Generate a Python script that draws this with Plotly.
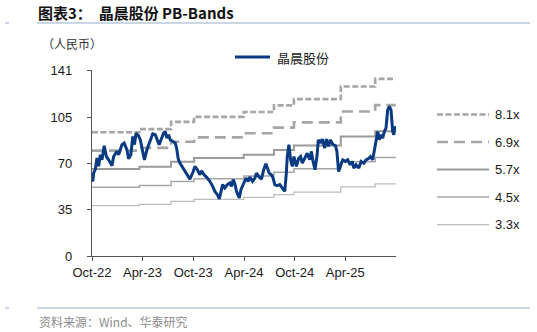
import plotly.graph_objects as go

# ---------------- data ----------------
price_dates = [
    "2022-10-01","2022-10-04","2022-10-07","2022-10-13","2022-10-19","2022-10-25","2022-10-31",
    "2022-11-06","2022-11-14","2022-11-22","2022-11-30","2022-12-12","2022-12-18","2022-12-30",
    "2023-01-05","2023-01-17","2023-01-25","2023-02-04","2023-02-10","2023-02-18","2023-02-25",
    "2023-03-03","2023-03-09","2023-03-18","2023-03-24","2023-03-30","2023-04-08","2023-04-17",
    "2023-04-23","2023-04-29","2023-05-08","2023-05-17","2023-05-23","2023-05-31","2023-06-07",
    "2023-06-16","2023-06-22","2023-06-28","2023-07-04","2023-07-10","2023-07-19","2023-07-28",
    "2023-08-02","2023-08-08","2023-08-14","2023-08-26","2023-09-07","2023-09-19","2023-10-01",
    "2023-10-07","2023-10-16","2023-10-25","2023-10-31","2023-11-09","2023-11-18","2023-11-30",
    "2023-12-10","2023-12-18","2023-12-27","2024-01-03","2024-01-08","2024-01-15","2024-01-23",
    "2024-02-01","2024-02-10","2024-02-16","2024-02-22","2024-02-28","2024-03-05","2024-03-11",
    "2024-03-15","2024-03-21","2024-03-29","2024-04-08","2024-04-16","2024-04-22","2024-05-02",
    "2024-05-10","2024-05-16","2024-05-24","2024-06-03","2024-06-11","2024-06-19","2024-06-25",
    "2024-07-01","2024-07-09","2024-07-15","2024-07-21","2024-07-29","2024-08-08","2024-08-17",
    "2024-08-26","2024-09-01","2024-09-04","2024-09-10","2024-09-16","2024-09-22","2024-09-28",
    "2024-10-07","2024-10-15","2024-10-22","2024-10-28","2024-11-06","2024-11-15","2024-11-24",
    "2024-11-30","2024-12-06","2024-12-13","2024-12-20","2024-12-25","2025-01-01","2025-01-08",
    "2025-01-17","2025-01-23","2025-01-31","2025-02-06","2025-02-16","2025-02-25","2025-03-02",
    "2025-03-08","2025-03-14","2025-03-23","2025-04-02","2025-04-10","2025-04-19","2025-04-26",
    "2025-05-02","2025-05-10","2025-05-20","2025-05-28","2025-06-07","2025-06-15","2025-06-25",
    "2025-07-01","2025-07-09","2025-07-15","2025-07-21","2025-07-27","2025-08-02","2025-08-08",
    "2025-08-14","2025-08-20","2025-08-26","2025-09-01","2025-09-07","2025-09-13","2025-09-19",
    "2025-09-23","2025-09-28","2025-09-30",
]
price_values = [
    59.0, 56.6, 63.0, 65.7, 74.3, 68.0, 76.8,
    72.9, 83.6, 75.4, 72.9, 68.5, 75.4, 79.3,
    76.8, 84.4, 85.6, 80.5, 73.7, 76.8, 90.6,
    84.4, 93.1, 91.1, 88.1, 81.8, 72.9, 80.5,
    84.4, 88.1, 92.6, 91.9, 88.1, 84.4, 88.1,
    93.1, 94.4, 89.4, 91.9, 88.1, 86.8, 85.6,
    81.8, 73.4, 70.4, 66.6, 62.8, 58.3, 64.0,
    67.9, 65.4, 61.6, 64.6, 61.6, 59.8, 56.6,
    52.8, 49.0, 46.5, 43.2, 47.8, 54.1, 51.6,
    54.1, 55.4, 52.8, 57.9, 54.9, 49.0, 45.3,
    44.0, 50.3, 54.1, 59.1, 56.6, 59.8, 56.6,
    59.1, 62.8, 60.3, 58.3, 65.4, 69.9, 66.6,
    62.8, 61.6, 59.1, 54.1, 53.3, 54.1, 51.6,
    49.0, 64.0, 75.4, 84.4, 72.9, 67.9, 75.4,
    67.9, 74.1, 75.4, 70.4, 74.1, 77.9, 72.9,
    79.3, 71.7, 65.4, 75.4, 88.1, 85.6, 88.6,
    81.8, 88.6, 83.1, 88.1, 84.4, 83.6, 79.3,
    64.0, 67.9, 72.9, 71.7, 72.9, 69.1, 71.7,
    66.6, 69.1, 66.6, 71.7, 70.4, 72.9, 74.1,
    75.4, 72.9, 79.3, 88.1, 94.4, 88.1, 91.9,
    89.4, 94.4, 96.9, 110.8, 113.3, 110.8, 94.4,
    91.9, 98.2, 96.9,
]

band_dates = ["2022-10-01","2023-03-21","2023-07-13","2023-10-04","2024-03-31",
              "2024-07-18","2024-09-28","2025-03-16","2025-07-18","2025-09-30"]
band_81 = [93.8, 96.2, 101.7, 105.5, 109.2, 114.2, 118.9, 128.5, 134.3, 134.3]
band_69 = [79.9, 82.0, 86.6, 89.9, 93.0, 97.3, 101.3, 109.5, 114.4, 114.4]
band_57 = [66.0, 67.7, 71.5, 74.3, 76.8, 80.4, 83.7, 90.5, 94.5, 94.5]
band_45 = [52.1, 53.5, 56.5, 58.6, 60.7, 63.5, 66.1, 71.4, 74.6, 74.6]
band_33 = [38.2, 39.2, 41.4, 43.0, 44.5, 46.5, 48.4, 52.4, 54.7, 54.7]

band_labels = ["8.1x", "6.9x", "5.7x", "4.5x", "3.3x"]
series_name = "晶晨股份"

tick_vals = ["2022-10-01","2023-04-01","2023-10-01","2024-04-01","2024-10-01","2025-04-01"]
tick_text = ["Oct-22","Apr-23","Oct-23","Apr-24","Oct-24","Apr-25"]
y_ticks = [0, 35, 70, 105, 141]

# ---------------- styles ----------------
W, H = 537, 332
L, R, T, B = 92, 396, 70, 256
FONT = "Liberation Sans, Arial, sans-serif"
CJK = "Noto Sans CJK SC, sans-serif"
BLUE = "#0A3A82"

band_styles = [
    dict(color="#A6A6A6", width=2.6, dash="6px,2.5px"),
    dict(color="#A6A6A6", width=2.6, dash="11px,6px"),
    dict(color="#9A9A9A", width=2.0, dash="solid"),
    dict(color="#A6A6A6", width=1.5, dash="solid"),
    dict(color="#BDBDBD", width=1.3, dash="solid"),
]
bands = [band_81, band_69, band_57, band_45, band_33]

def px(x):
    return (x - L) / (R - L)

def py(y):
    return (B - y) / (B - T)

fig = go.Figure()
for vals, st, lab in zip(bands, band_styles, band_labels):
    fig.add_trace(go.Scatter(x=band_dates, y=vals, mode="lines", line_shape="hv",
                             line=st, name=lab, showlegend=False, hoverinfo="skip"))

fig.add_trace(go.Scatter(x=price_dates, y=price_values, mode="lines",
                         line=dict(color=BLUE, width=3), name=series_name,
                         showlegend=False))

shapes = []
annotations = []

# right-side legend for the bands
leg_y = [114.5, 142, 169.5, 197, 224.7]
for yy, st, lab in zip(leg_y, band_styles, band_labels):
    shapes.append(dict(type="line", xref="paper", yref="paper",
                       x0=px(437), x1=px(489), y0=py(yy), y1=py(yy),
                       line=st))
    annotations.append(dict(xref="paper", yref="paper", x=px(493), y=py(yy),
                            text=lab, showarrow=False, xanchor="left", yanchor="middle",
                            font=dict(family=FONT, size=13, color="#1a1a1a")))

# top legend for the price series
shapes.append(dict(type="line", xref="paper", yref="paper",
                   x0=px(235), x1=px(270), y0=py(57), y1=py(57),
                   line=dict(color=BLUE, width=3)))
annotations.append(dict(xref="paper", yref="paper", x=px(275), y=py(57),
                        text=series_name, showarrow=False, xanchor="left", yanchor="middle",
                        font=dict(family=CJK, size=13, color="#1a1a1a")))

# unit label
annotations.append(dict(xref="paper", yref="paper", x=px(40), y=py(44),
                        text="（人民币）", showarrow=False, xanchor="left", yanchor="middle",
                        font=dict(family=CJK, size=12, color="#333333")))

# header / footer rules
for yy in (23, 308):
    shapes.append(dict(type="line", xref="paper", yref="paper",
                       x0=px(37), x1=px(530), y0=py(yy), y1=py(yy),
                       line=dict(color="#B9C8DA", width=1.5)))
    shapes.append(dict(type="line", xref="paper", yref="paper",
                       x0=px(5), x1=px(9), y0=py(yy), y1=py(yy),
                       line=dict(color="#B9C8DA", width=1.5)))

# source
annotations.append(dict(xref="paper", yref="paper", x=px(37), y=py(321),
                        text="资料来源：Wind、华泰研究", showarrow=False,
                        xanchor="left", yanchor="middle",
                        font=dict(family=CJK, size=12, color="#8C8C8C")))

fig.update_layout(
    width=W, height=H,
    margin=dict(l=L, r=W - R, t=T, b=H - B, pad=0),
    paper_bgcolor="white", plot_bgcolor="white",
    title=dict(text="<b>图表3：  晶晨股份 PB-Bands</b>", x=38 / W, xanchor="left",
               xref="container", y=1 - 14 / H, yref="container", yanchor="middle",
               font=dict(family=CJK, size=15, color="#111111")),
    shapes=shapes, annotations=annotations,
    showlegend=False,
    xaxis=dict(type="date", range=["2022-10-01", "2025-10-01"],
               tickvals=tick_vals, ticktext=tick_text,
               showgrid=False, zeroline=False,
               showline=True, linecolor="#555555", linewidth=1.2,
               ticks="outside", ticklen=4, tickcolor="#555555", tickwidth=1.2,
               tickfont=dict(family=FONT, size=13, color="#1a1a1a")),
    yaxis=dict(range=[0, 141], tickvals=y_ticks,
               showgrid=False, zeroline=False,
               showline=True, linecolor="#555555", linewidth=1.2,
               ticks="outside", ticklen=4, tickcolor="#555555", tickwidth=1.2,
               ticklabelstandoff=12,
               tickfont=dict(family=FONT, size=13, color="#1a1a1a")),
)

fig.write_html("out.html")
